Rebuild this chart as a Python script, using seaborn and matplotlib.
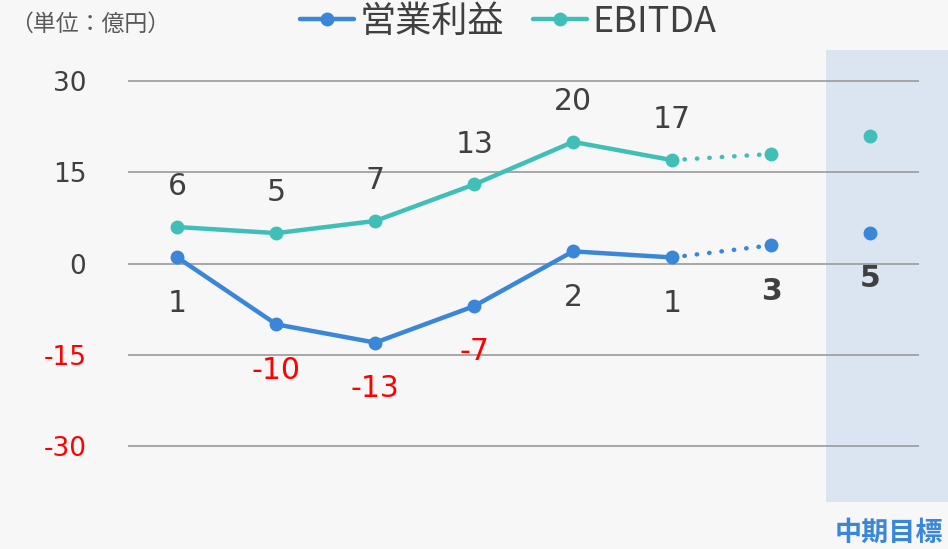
import pandas as pd
import matplotlib.pyplot as plt
import seaborn as sns
from matplotlib.lines import Line2D

# Data (x = period index; 0-5 actual, 6 forecast, 7 mid-term target)
periods = [0, 1, 2, 3, 4, 5, 6, 7]
op_profit = [1, -10, -13, -7, 2, 1, 3, 5]
ebitda = [6, 5, 7, 13, 20, 17, 18, 21]
n_actual = 6
y_ticks = [-30, -15, 0, 15, 30]

BLUE = '#3a86d8'
TEAL = '#40bfb9'
TEXT = '#404040'
BAND = '#dae5f1'
NUM_FONT = ['DejaVu Sans', 'Noto Sans CJK JP']
JP_FONT = ['Noto Sans CJK JP', 'DejaVu Sans']

sns.set_theme(style="white")
plt.rcParams['font.family'] = JP_FONT

df = pd.DataFrame({'period': periods, 'op': op_profit, 'ebitda': ebitda})
actual = df.iloc[:n_actual]

fig = plt.figure(figsize=(9.48, 5.49), dpi=100)
fig.patch.set_facecolor('#f7f7f7')
ax = fig.add_axes([128 / 948, 1 - 502 / 549, 820 / 948, 452 / 549])
ax.set_facecolor('#f7f7f7')
for s in ax.spines.values():
    s.set_visible(False)

ax.set_xlim(-0.5, 7.79)
ax.set_ylim(-39.2, 35.1)

# mid-term target band
ax.axvspan(6.555, 7.79, color=BAND, zorder=0, lw=0)

# gridlines
ax.hlines(y_ticks, -0.5, 7.5, color='#9a9a9a', lw=1.2, zorder=1)

# solid lines for actuals
for col, c in [('op', BLUE), ('ebitda', TEAL)]:
    sns.lineplot(data=actual, x='period', y=col, ax=ax, color=c, lw=3.2,
                 marker='o', markersize=10, markeredgewidth=0, zorder=3)
    # dotted forecast segment
    ax.plot(df['period'].iloc[n_actual - 1:n_actual + 1], df[col].iloc[n_actual - 1:n_actual + 1],
            color=c, lw=3.2, linestyle=(0, (0.1, 2.7)), dash_capstyle='round', zorder=3)
    sns.scatterplot(x=df['period'].iloc[n_actual:], y=df[col].iloc[n_actual:], ax=ax,
                    color=c, s=100, linewidth=0, zorder=4)

# data labels
for i, (x, v) in enumerate(zip(periods, op_profit)):
    ax.annotate(f'{v}', (x, v), xytext=(0, -33), textcoords='offset points',
                ha='center', va='center', fontsize=21.5, family=NUM_FONT,
                color='red' if v < 0 else TEXT,
                fontweight='bold' if i >= n_actual else 'normal')
for x, v in zip(periods[:n_actual], ebitda[:n_actual]):
    ax.annotate(f'{v}', (x, v), xytext=(0, 29), textcoords='offset points',
                ha='center', va='center', fontsize=21.5, family=NUM_FONT, color=TEXT)

# y ticks
ax.set_xticks([])
ax.set_yticks(y_ticks)
ax.set_yticklabels([str(t) for t in y_ticks], fontsize=19, family=NUM_FONT)
ax.tick_params(axis='y', length=0, pad=30)
for lab, t in zip(ax.get_yticklabels(), y_ticks):
    lab.set_color('red' if t < 0 else TEXT)
ax.set_xlabel('')
ax.set_ylabel('')

# legend
handles = [Line2D([], [], color=BLUE, lw=3.2, marker='o', markersize=10, markeredgewidth=0),
           Line2D([], [], color=TEAL, lw=3.2, marker='o', markersize=10, markeredgewidth=0)]
leg = fig.legend(handles, ['営業利益', 'EBITDA'], loc='center', ncol=2,
                 bbox_to_anchor=(508 / 948, 1 - 22 / 549), frameon=False,
                 fontsize=26, handlelength=1.5, handletextpad=0.15, columnspacing=0.8)
for t in leg.get_texts():
    t.set_color(TEXT)

fig.text(10 / 948, 1 - 24 / 549, '（単位：億円）', fontsize=16.5, color='#595959',
         ha='left', va='center')
fig.text(835 / 948, 1 - 533 / 549, '中期目標', fontsize=19.5, fontweight='bold',
         color=BLUE, ha='left', va='center')

plt.savefig('out.png', dpi=100, facecolor=fig.get_facecolor())
